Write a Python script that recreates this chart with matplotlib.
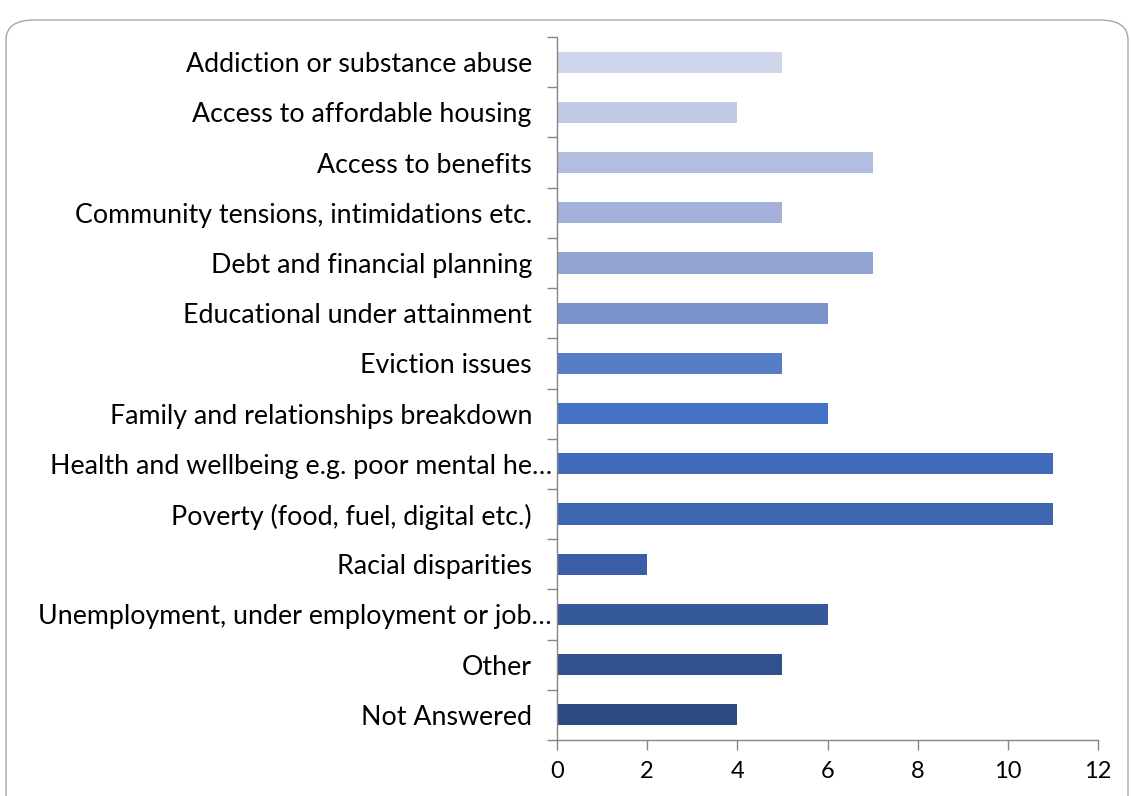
import matplotlib
matplotlib.use("Agg")
import matplotlib.pyplot as plt
from matplotlib.patches import FancyBboxPatch
from matplotlib.ticker import FixedLocator
from matplotlib.transforms import ScaledTranslation
import numpy as np

categories = [
    "Addiction or substance abuse",
    "Access to affordable housing",
    "Access to benefits",
    "Community tensions, intimidations etc.",
    "Debt and financial planning",
    "Educational under attainment",
    "Eviction issues",
    "Family and relationships breakdown",
    "Health and wellbeing e.g. poor mental he…",
    "Poverty (food, fuel, digital etc.)",
    "Racial disparities",
    "Unemployment, under employment or job…",
    "Other",
    "Not Answered",
]
values = [5, 4, 7, 5, 7, 6, 5, 6, 11, 11, 2, 6, 5, 4]
bar_colors = [
    "#CFD5EA", "#C2C9E5", "#B3BDDF", "#A3B0DA", "#92A4D4", "#7A93CD",
    "#567DC6", "#4472C4", "#416BBA", "#3E65B0", "#3A5DA5", "#36599B",
    "#30518E", "#2B4A80",
]
xticks = [0, 2, 4, 6, 8, 10, 12]

plt.rcParams['font.family'] = ['Lato', 'DejaVu Sans']

W, H = 1131, 796
fig = plt.figure(figsize=(W / 100, H / 100), dpi=100)
ax = fig.add_axes([557 / W, 1 - 740 / H, (1098 - 557) / W, (740 - 37) / H])

n = len(categories)
y = np.arange(n)
ax.barh(y, values, height=0.42, color=bar_colors)
ax.set_ylim(n - 0.5, -0.5)
ax.set_xlim(0, 12)

ax.set_yticks(y)
ax.set_yticklabels(categories, fontsize=19.3, color="black")
ax.tick_params(axis="y", which="major", length=0, pad=18)
ax.yaxis.set_minor_locator(FixedLocator(np.arange(-0.5, n, 1.0)))
ax.tick_params(axis="y", which="minor", length=7, color="#868686", width=1)

# truncated labels sit closer to the axis, as in the original
for lbl in ax.get_yticklabels():
    if lbl.get_text().endswith("…"):
        lbl.set_transform(lbl.get_transform() + ScaledTranslation(0.2, 0, fig.dpi_scale_trans))

ax.set_xticks(xticks)
ax.set_xticklabels([str(t) for t in xticks], fontsize=17, color="black")
ax.tick_params(axis="x", length=7, color="#868686", width=1, pad=8)

for s in ["top", "right"]:
    ax.spines[s].set_visible(False)
for s in ["left", "bottom"]:
    ax.spines[s].set_color("#868686")
    ax.spines[s].set_linewidth(1)

border = FancyBboxPatch((6 / W, -20 / H), (1122 / W), (H - 10 + 10) / H,
                        boxstyle="round,pad=0,rounding_size=0.025",
                        transform=fig.transFigure, fill=False,
                        edgecolor="#A6A6A6", linewidth=1.0)
fig.patches.append(border)

fig.savefig("out.png", dpi=100)
